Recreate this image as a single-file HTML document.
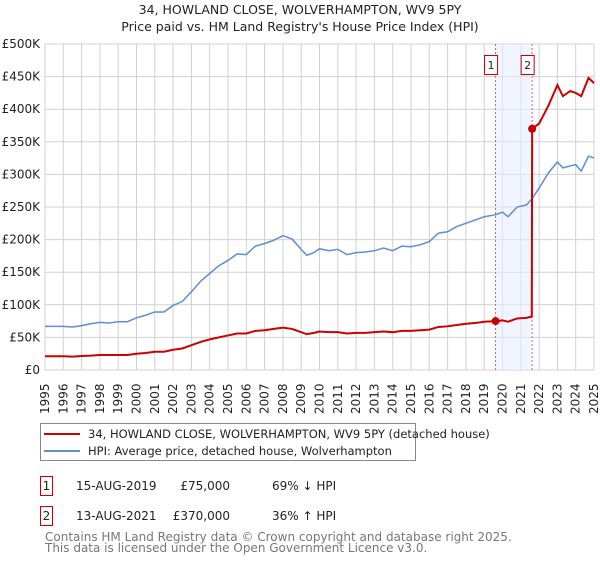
<!DOCTYPE html>
<html><head><meta charset="utf-8"><style>
body{margin:0;background:#fff;font-family:"DejaVu Sans","Liberation Sans",sans-serif;}
svg text{font-family:"DejaVu Sans","Liberation Sans",sans-serif;}
</style></head><body>
<svg id="chart" width="600" height="560" xmlns="http://www.w3.org/2000/svg">
<text x="300" y="14" text-anchor="middle" font-size="12.5" fill="#222">34, HOWLAND CLOSE, WOLVERHAMPTON, WV9 5PY</text>
<text x="300" y="31" text-anchor="middle" font-size="12.5" fill="#222">Price paid vs. HM Land Registry's House Price Index (HPI)</text>
<g id="grid"></g><g id="band"></g><g id="lines"></g><g id="axes"></g>
<g>
<rect x="40.5" y="423.5" width="375" height="37" fill="#fff" stroke="#888"/>
<line x1="44" y1="434" x2="80" y2="434" stroke="#cc0000" stroke-width="2"/>
<text x="88" y="438" font-size="11.5" fill="#222">34, HOWLAND CLOSE, WOLVERHAMPTON, WV9 5PY (detached house)</text>
<line x1="44" y1="451" x2="80" y2="451" stroke="#5b8fd6" stroke-width="2"/>
<text x="88" y="455" font-size="11.5" fill="#222">HPI: Average price, detached house, Wolverhampton</text>
</g>
<g font-size="12" fill="#222">
<rect x="40.5" y="476.5" width="12" height="19" fill="#fff" stroke="#cc0000"/>
<text x="46.5" y="490" text-anchor="middle">1</text>
<text x="76" y="490">15-AUG-2019</text><text x="230" y="490" text-anchor="end">£75,000</text><text x="272" y="490">69% ↓ HPI</text>
</g>
<g font-size="12" fill="#222">
<rect x="40.5" y="506.5" width="12" height="19" fill="#fff" stroke="#cc0000"/>
<text x="46.5" y="520" text-anchor="middle">2</text>
<text x="76" y="520">13-AUG-2021</text><text x="230" y="520" text-anchor="end">£370,000</text><text x="272" y="520">36% ↑ HPI</text>
</g>
<text x="45" y="541" font-size="12" fill="#777">Contains HM Land Registry data © Crown copyright and database right 2025.</text>
<text x="45" y="552" font-size="12" fill="#777">This data is licensed under the Open Government Licence v3.0.</text>
</svg>
<script>
const hpiYears=[1995,1996,1996.5,1997,1997.5,1998,1998.5,1999,1999.5,2000,2000.5,2001,2001.5,2002,2002.5,2003,2003.5,2004,2004.5,2005,2005.5,2006,2006.5,2007,2007.5,2008,2008.5,2009,2009.3,2009.7,2010,2010.5,2011,2011.5,2012,2012.5,2013,2013.5,2014,2014.5,2015,2015.5,2016,2016.5,2017,2017.5,2018,2018.5,2019,2019.6,2020,2020.3,2020.8,2021.3,2021.6,2022,2022.5,2023,2023.3,2023.7,2024,2024.3,2024.7,2025];
const hpiValues=[67,67,66,68,71,73,72,74,74,80,84,89,89,99,105,120,136,148,160,168,178,177,190,194,199,206,201,185,176,180,186,183,185,177,180,181,183,187,183,190,189,192,197,210,212,220,225,230,235,238,242,235,250,253,262,279,302,319,310,313,315,305,328,325];
const priceYears=[1995,1996,1996.5,1997,1997.5,1998,1998.5,1999,1999.5,2000,2000.5,2001,2001.5,2002,2002.5,2003,2003.5,2004,2004.5,2005,2005.5,2006,2006.5,2007,2007.5,2008,2008.5,2009,2009.3,2009.7,2010,2010.5,2011,2011.5,2012,2012.5,2013,2013.5,2014,2014.5,2015,2015.5,2016,2016.5,2017,2017.5,2018,2018.5,2019,2019.62,2020,2020.3,2020.8,2021.3,2021.6,2021.62,2022,2022.5,2023,2023.3,2023.7,2024,2024.3,2024.7,2025];
const priceValues=[21,21,20.5,21.5,22,23,23,23,23,25,26,28,28,31,33,38,43,47,50,53,56,56,60,61,63,65,63,58,55,57,59,58,58,56,57,57,58,59,58,60,60,61,62,66,67,69,71,72,74,75,76,74,79,80,82,370,378,405,437,420,428,425,420,448,440];
const saleYears=[2019.62,2021.62];
const saleValues=[75,370];
const saleLabels=["1","2"];
const yTicks=[0,50,100,150,200,250,300,350,400,450,500];
const yTickLabels=["£0","£50K","£100K","£150K","£200K","£250K","£300K","£350K","£400K","£450K","£500K"];
const xTicks=[1995,1996,1997,1998,1999,2000,2001,2002,2003,2004,2005,2006,2007,2008,2009,2010,2011,2012,2013,2014,2015,2016,2017,2018,2019,2020,2021,2022,2023,2024,2025];

const NS="http://www.w3.org/2000/svg";
const X0=45,X1=594,Y0=370,Y1=44;
const sx=y=>X0+(y-1995)/(2025-1995)*(X1-X0);
const sy=v=>Y0-v/500*(Y0-Y1);
function mk(tag,attrs,parent){const e=document.createElementNS(NS,tag);for(const k in attrs)e.setAttribute(k,attrs[k]);parent.appendChild(e);return e;}
const grid=document.getElementById('grid'),band=document.getElementById('band'),lines=document.getElementById('lines'),axes=document.getElementById('axes');
yTicks.forEach((t,i)=>{
 const l=mk('line',{x1:X0,x2:X1,y1:sy(t),y2:sy(t),stroke:'#d0d0d0'},grid);
 
 
 const tx=mk('text',{x:40,y:sy(t)+4,'text-anchor':'end','font-size':'12',fill:'#222'},axes);
 tx.textContent=yTickLabels[i];
 
 
});
xTicks.forEach(t=>{
 const l=mk('line',{x1:sx(t),x2:sx(t),y1:Y1,y2:Y0,stroke:'#d0d0d0'},grid);
 
 
 const g=mk('g',{transform:'translate('+(sx(t)+4)+',414) rotate(-90)'},axes);
 const tx=mk('text',{x:0,y:0,'font-size':'12',fill:'#222'},g);
 tx.textContent=String(t);
 
 
});
const b=mk('rect',{x:sx(saleYears[0]),y:Y1,width:sx(saleYears[1])-sx(saleYears[0]),height:Y0-Y1,fill:'#e8efff',opacity:'0.6'},band);


saleYears.forEach((yr,i)=>{
 const d=mk('line',{x1:sx(yr),x2:sx(yr),y1:Y1,y2:Y0,stroke:'#e06060','stroke-dasharray':'2,2'},band);
 
 
 const r=mk('rect',{x:sx(yr)-11,y:55.5,width:13,height:19,fill:'#fff',stroke:'#cc0000'},band);
 
 
 const tx=mk('text',{x:sx(yr)-4.5,y:69,'text-anchor':'middle','font-size':'11',fill:'#222'},band);
 tx.textContent=saleLabels[i];
 
 
});
const hp=mk('polyline',{points:hpiYears.map((y,i)=>sx(y)+','+sy(hpiValues[i])).join(' '),fill:'none',stroke:'#5b8fd6','stroke-width':'1.5'},lines);


const pp=mk('polyline',{points:priceYears.map((y,i)=>sx(y)+','+sy(priceValues[i])).join(' '),fill:'none',stroke:'#cc0000','stroke-width':'2'},lines);


saleYears.forEach((yr,i)=>{
 const c=mk('circle',{cx:sx(yr),cy:sy(saleValues[i]),r:4,fill:'#cc0000'},lines);
 
 
});
</script>
</body></html>
